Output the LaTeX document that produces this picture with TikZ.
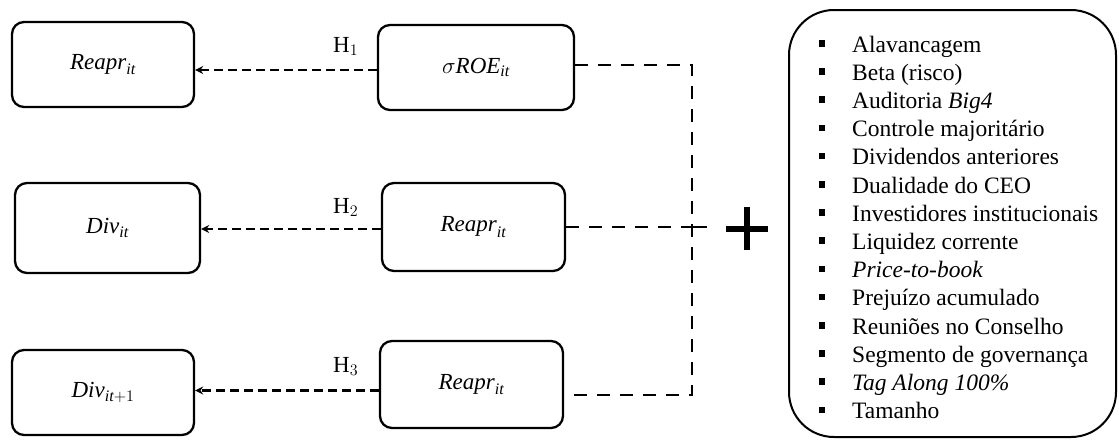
\RequirePackage{fix-cm}
\documentclass[tikz,border=0pt]{standalone}
\usepackage{fontspec}
\setmainfont{Liberation Serif}
\usetikzlibrary{arrows.meta,calc}
% italic variable names set in the text italic
\newcommand{\vn}[1]{\mathit{#1}}
\begin{document}
\begin{tikzpicture}[x=1pt,y=-1pt,
  vbox/.style={draw, line width=2.3pt, rounded corners=12pt, inner sep=0pt,
    font=\fontsize{23}{26}\selectfont},
  hyp/.style={line width=2.2pt, dash pattern=on 9pt off 5pt,
    -{Stealth[length=8pt,width=8pt]}},
  link/.style={line width=2.2pt, dash pattern=on 13pt off 10pt},
  hlab/.style={anchor=base west, inner sep=0pt, font=\fontsize{23}{26}\selectfont},
  item/.style={anchor=base west, inner sep=0pt, font=\fontsize{23.5}{28}\selectfont},
  ctrlbox/.style={draw, line width=2pt, rounded corners=45pt, inner sep=0pt},
]
\useasboundingbox (0,0) rectangle (1119,442);

% dependent variables
\node[vbox, minimum width=182pt, minimum height=85pt] (L1) at (103,64.5) {$\vn{Reapr}_{\vn{it}}$};
\node[vbox, minimum width=185pt, minimum height=90pt] (L2) at (107.5,228) {$\vn{Div}_{\vn{it}}$};
\node[vbox, minimum width=182pt, minimum height=85pt] (L3) at (103,392.5) {$\vn{Div}_{\vn{it}+1}$};

% explanatory variables
\node[vbox, minimum width=196pt, minimum height=85pt] (M1) at (476,67.5) {$\sigma\vn{ROE}_{\vn{it}}$};
\node[vbox, minimum width=183pt, minimum height=88pt] (M2) at (473.5,227) {$\vn{Reapr}_{\vn{it}}$};
\node[vbox, minimum width=183pt, minimum height=87pt] (M3) at (471.5,384.5) {$\vn{Reapr}_{\vn{it}}$};

% hypotheses
\draw[hyp] ([yshift=-2.5pt]M1.west) -- ([yshift=-2.5pt]M1.west -| L1.east);
\draw[hyp] ([yshift=-2pt]M2.west) -- ([yshift=-2pt]M2.west -| L2.east);
\draw[hyp] ([yshift=-6pt]M3.west) -- ([yshift=-6pt]M3.west -| L3.east);
\node[hlab] (h1) at (333,52) {H$_1$};
\node[hlab] (h2) at (333,213) {H$_2$};
\node[hlab] (h3) at (333,372) {H$_3$};

% bracket joining the explanatory variables
\coordinate (jt) at (692,0);
\draw[link] ([yshift=2.5pt]M1.east) -- ([yshift=2.5pt]M1.east -| jt)
  -- ([yshift=-10.5pt]M3.east -| jt) -- ([yshift=-10.5pt]M3.east);
\draw[link] (M2.east) -- (M2.east -| jt);
\draw[line width=2.2pt] (M2.east -| jt) -- ++(15,0);

% plus sign
\coordinate (plus) at (747,228.5);
\draw[line width=6pt] ($(plus)+(-21,0)$) -- ($(plus)+(21,0)$);
\draw[line width=6pt] ($(plus)+(0,-21.5)$) -- ($(plus)+(0,21.5)$);

% control variables
\node[ctrlbox, minimum width=327pt, minimum height=427pt] (ctrl) at (952.5,223.5) {};
\foreach \t [count=\i] in {
  {Alavancagem},
  {Beta (risco)},
  {Auditoria \textit{Big4}},
  {Controle majoritário},
  {Dividendos anteriores},
  {Dualidade do CEO},
  {Investidores institucionais},
  {Liquidez corrente},
  {\textit{Price-to-book}},
  {Prejuízo acumulado},
  {Reuniões no Conselho},
  {Segmento de governança},
  {\textit{Tag Along 100\%}},
  {Tamanho}}
{
  \node[item] (cv\i) at (818.5,{52+(\i-1)*28.2})
    {\makebox[33.5pt][l]{\rule[5.5pt]{6.5pt}{6.5pt}}\t};
}
\end{tikzpicture}
\end{document}
